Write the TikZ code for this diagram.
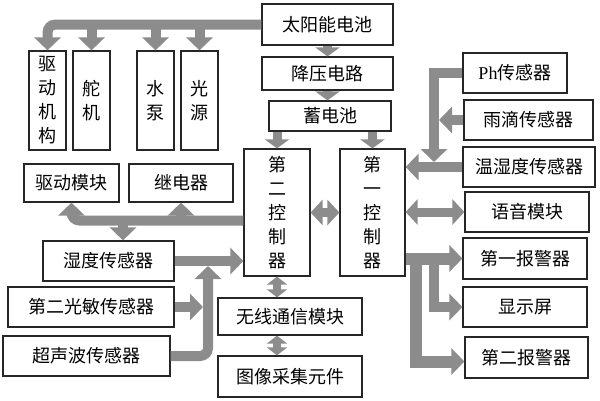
\documentclass[tikz,border=0pt]{standalone}
\usepackage{fontspec}
\usetikzlibrary{arrows.meta}
\newfontfamily\cjk{Noto Sans CJK SC}
\newfontfamily\lat{Liberation Serif}
\definecolor{barc}{HTML}{8C8C8C}
\tikzset{
  blk/.style={draw=black!85, line width=1.2pt, fill=white, inner sep=0pt,
    align=center, font=\cjk\fontsize{18}{24}\selectfont},
  sz/.style 2 args={minimum width=#1pt, minimum height=#2pt},
  bus/.style={draw=barc, line width=10pt, -{Triangle[width=26pt,length=13pt]}},
  dbus/.style={draw=barc, line width=9pt,
    {Triangle[width=25pt,length=12pt]}-{Triangle[width=25pt,length=12pt]}},
  sbus/.style={draw=barc, line width=9pt, -{Triangle[width=24pt,length=9pt]}},
  sdbus/.style={draw=barc, line width=8pt,
    {Triangle[width=20pt,length=8pt]}-{Triangle[width=20pt,length=8pt]}},
}
\begin{document}
\begin{tikzpicture}[x=1pt, y=-1pt]
        \useasboundingbox (0,0) rectangle (600,400);
        % power chain
        \node[blk, sz={131}{41}] (sun)    at (327.5,24.5) {太阳能电池};
        \node[blk, sz={131}{33}] (buck)   at (327.5,73.5) {降压电路};
        \node[blk, sz={122}{30}] (batt)   at (330,116)    {蓄电池};
        % actuators
        \node[blk, sz={37}{99}]  (drv)    at (47.5,100.5)  {驱\\动\\机\\构};
        \node[blk, sz={37}{99}]  (servo)  at (91.5,100.5)  {舵\\机};
        \node[blk, sz={37}{99}]  (pump)   at (155.5,100.5) {水\\泵};
        \node[blk, sz={37}{99}]  (lamp)   at (199.5,100.5) {光\\源};
        \node[blk, sz={95}{38}]  (drvmod) at (71.5,183)    {驱动模块};
        \node[blk, sz={104}{38}] (relay)  at (181,183)     {继电器};
        % controllers
        \node[blk, sz={66}{127}] (ctrlB)  at (277,212.5)   {第\\二\\控\\制\\器};
        \node[blk, sz={65}{127}] (ctrlA)  at (372.5,212.5) {第\\一\\控\\制\\器};
        % right column
        \node[blk, sz={104}{40}] (ph)     at (515,73)      {{\lat Ph}传感器};
        \node[blk, sz={129}{40}] (rain)   at (528.5,120)   {雨滴传感器};
        \node[blk, sz={132}{40}] (thsens) at (529,167)     {温湿度传感器};
        \node[blk, sz={124}{40}] (voice)  at (527,212)     {语音模块};
        \node[blk, sz={124}{41}] (alarmA) at (525,258.5)   {第一报警器};
        \node[blk, sz={124}{40}] (disp)   at (525,307)     {显示屏};
        \node[blk, sz={123}{41}] (alarmB) at (526.5,357.5) {第二报警器};
        % left sensors
        \node[blk, sz={131}{40}] (hum)    at (108.5,261)   {湿度传感器};
        \node[blk, sz={166}{40}] (light2) at (91,307)      {第二光敏传感器};
        \node[blk, sz={167}{40}] (sonar)  at (86.5,356)    {超声波传感器};
        % bottom
        \node[blk, sz={144}{37}] (wifi)   at (290,316.5)   {无线通信模块};
        \node[blk, sz={144}{41}] (cam)    at (290,376.5)   {图像采集元件};
        % joints
        \coordinate (lbus)    at (123,220.5);
        \coordinate (phdrop)  at (434,162);
        \coordinate (bellA)   at (416,258.5);
        \coordinate (bellD)   at (434,258.5);
        \coordinate (sonarup) at (208,266);
        % solar bus
        \draw[bus, rounded corners=8pt] (sun.west) -| (drv.north);
        \draw[bus] (servo.north |- sun.west) -- (servo.north);
        \draw[bus] (pump.north |- sun.west)  -- (pump.north);
        \draw[bus] (lamp.north |- sun.west)  -- (lamp.north);
        \draw[sbus] (sun.south)  -- (buck.north);
        \draw[sbus] (buck.south) -- (buck.south |- batt.north);
        \draw[sbus] (ctrlB.north |- batt.south) -- (ctrlB.north);
        \draw[sbus] (ctrlA.north |- batt.south) -- (ctrlA.north);
        \draw[dbus] (ctrlB.east) -- (ctrlA.west);
        % right sensors
        \draw[bus] (ph.west) -| (phdrop);
        \draw[bus] (rain.west) -- ([xshift=5pt]rain.west -| phdrop);
        \draw[bus] (thsens.west) -- (thsens.west -| ctrlA.east);
        \draw[dbus] (voice.west) -- (voice.west -| ctrlA.east);
        % outputs
        \draw[bus, line width=12pt] (ctrlA.east |- alarmA.west) -- (alarmA.west);
        \draw[bus, line width=12pt] (bellA) |- ([yshift=-4pt]alarmB.west);
        \draw[bus] (bellD) |- (disp.west);
        % second controller, left side
        \draw[bus, rounded corners=8pt] ([yshift=-8pt]ctrlB.west) -| (drvmod.south);
        \draw[bus] (relay.south |- lbus) -- (relay.south);
        \draw[bus] (lbus) -- (lbus |- hum.north);
        \draw[bus] (hum.east) -- (hum.east -| ctrlB.west);
        \draw[bus] (light2.east) -- ([xshift=-5pt]light2.east -| sonarup);
        \draw[bus, rounded corners=8pt] (sonar.east) -| (sonarup);
        % wireless
        \draw[sdbus] (ctrlB.south) -- (ctrlB.south |- wifi.north);
        \draw[sdbus] (ctrlB.south |- wifi.south) -- (ctrlB.south |- cam.north);
\end{tikzpicture}
\end{document}
